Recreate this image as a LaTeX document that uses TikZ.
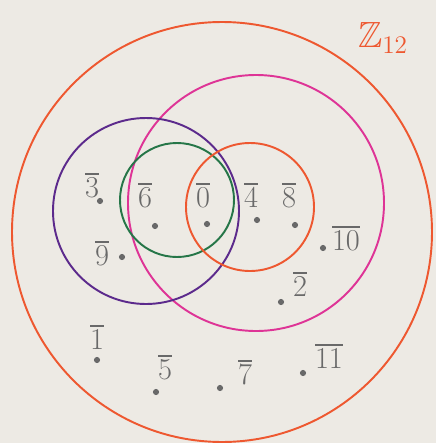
\documentclass[tikz,border=0pt]{standalone}
\usepackage{amsmath, amssymb}
\usepackage{tikz}
\definecolor{paper}{RGB}{237,234,228}
\definecolor{pencil}{RGB}{105,105,105}
\definecolor{zorange}{RGB}{238,88,48}
\definecolor{zmagenta}{RGB}{222,52,150}
\definecolor{zpurple}{RGB}{92,42,140}
\definecolor{zgreen}{RGB}{38,118,72}
\tikzset{
  num/.style={text=pencil, font=\LARGE, inner sep=1pt},
  pt/.style={circle, fill=pencil, inner sep=0pt, minimum size=3.5pt},
  ring/.style={line width=1.1pt}
}

\begin{document}
\begin{tikzpicture}[x=0.02cm, y=-0.02cm]
                \fill[paper] (0,0) rectangle (436,443);
                \useasboundingbox (0,0) rectangle (436,443);
                % subgroups of Z_12
                \coordinate (G) at (222,232);
                \coordinate (H2) at (256,203);
                \coordinate (H3) at (146,211);
                \coordinate (H6) at (177,200);
                \coordinate (H4) at (250,207);
                \draw[ring, zorange] (G) circle (210);
                \draw[ring, zmagenta] (H2) circle (128);
                \draw[ring, zpurple] (H3) circle (93);
                \draw[ring, zgreen] (H6) circle (57);
                \draw[ring, zorange] (H4) circle (64);
                \node[text=zorange, font=\huge] (Z) at (383,38) {$\mathbb{Z}_{12}$};
                % elements
                \node[num] (e3) at (92,185) {$\overline{3}$};   \node[pt] (d3) at (100,201) {};
                \node[num] (e6) at (145,195) {$\overline{6}$};  \node[pt] (d6) at (155,226) {};
                \node[num] (e0) at (203,195) {$\overline{0}$};  \node[pt] (d0) at (207,224) {};
                \node[num] (e4) at (251,195) {$\overline{4}$};  \node[pt] (d4) at (257,220) {};
                \node[num] (e8) at (289,195) {$\overline{8}$};  \node[pt] (d8) at (295,225) {};
                \node[num] (e10) at (346,238) {$\overline{10}$}; \node[pt] (d10) at (323,248) {};
                \node[num] (e9) at (102,253) {$\overline{9}$};  \node[pt] (d9) at (122,257) {};
                \node[num] (e2) at (300,284) {$\overline{2}$};  \node[pt] (d2) at (281,302) {};
                \node[num] (e1) at (97,337) {$\overline{1}$};   \node[pt] (d1) at (97,360) {};
                \node[num] (e5) at (165,367) {$\overline{5}$};  \node[pt] (d5) at (156,392) {};
                \node[num] (e7) at (245,372) {$\overline{7}$};  \node[pt] (d7) at (220,388) {};
                \node[num] (e11) at (329,356) {$\overline{11}$}; \node[pt] (d11) at (303,373) {};
            \end{tikzpicture}
\end{document}
